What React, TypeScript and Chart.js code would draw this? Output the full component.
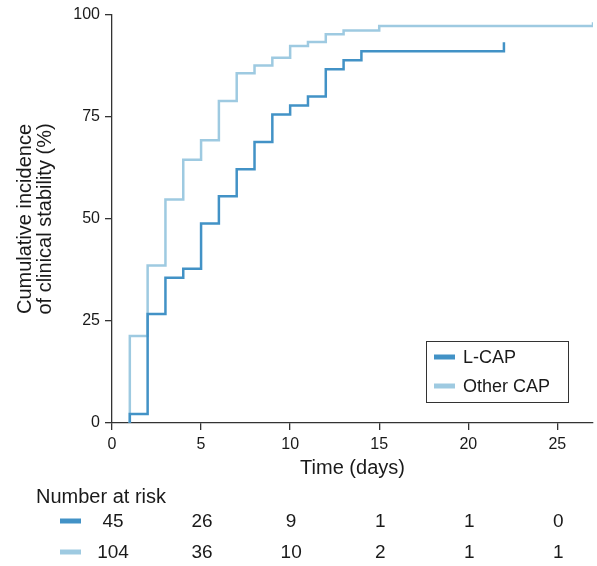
import React, { useEffect, useRef } from 'react';
import { Chart, registerables } from 'chart.js';

Chart.register(...registerables);

// ---- data ----
const seriesNames = ['L-CAP', 'Other CAP'];
const seriesColors = ['#4292c6', '#9ecae1'];

const lcapTimes = [1, 1, 2, 3, 4, 5, 6, 7, 8, 9, 10, 11, 12, 13, 14, 22, 22];
const lcapValues = [0, 2.2, 26.7, 35.6, 37.8, 48.9, 55.6, 62.2, 68.9, 75.6, 77.8, 80.0, 86.7, 88.9, 91.1, 91.1, 93.3];

const otherTimes = [1, 1, 2, 3, 4, 5, 6, 7, 8, 9, 10, 11, 12, 13, 15, 27, 27];
const otherValues = [0, 21.3, 38.6, 54.8, 64.5, 69.3, 78.9, 85.7, 87.6, 89.5, 92.4, 93.4, 95.3, 96.2, 97.3, 97.3, 98.2];

const riskTimes = [0, 5, 10, 15, 20, 25];
const riskLcap = [45, 26, 9, 1, 1, 0];
const riskOther = [104, 36, 10, 2, 1, 1];
const riskTitle = 'Number at risk';

const xTitle = 'Time (days)';
const yTitle = ['Cumulative incidence', 'of clinical stability (%)'];

const FONT = "'Liberation Sans', Arial, Helvetica, sans-serif";
const TEXT = '#1a1a1a';
const AXIS = '#333333';

const toPoints = (xs: number[], ys: number[]) => xs.map((x, i) => ({ x, y: ys[i] }));

const overlayPlugin = {
  id: 'overlay',
  afterDraw(chart: any) {
    const ctx = chart.ctx as CanvasRenderingContext2D;
    const area = chart.chartArea;
    const xs = chart.scales.x;
    ctx.save();

    // legend box
    const bx = area.right - 167;
    const by = area.bottom - 82;
    const bw = 142;
    const bh = 61;
    ctx.fillStyle = '#ffffff';
    ctx.fillRect(bx, by, bw, bh);
    ctx.strokeStyle = AXIS;
    ctx.lineWidth = 1;
    ctx.strokeRect(Math.round(bx) + 0.5, Math.round(by) + 0.5, bw, bh);
    ctx.font = `18px ${FONT}`;
    ctx.textBaseline = 'middle';
    ctx.textAlign = 'left';
    seriesNames.forEach((name, i) => {
      const y = by + 16 + i * 29;
      ctx.strokeStyle = seriesColors[i];
      ctx.lineWidth = 5;
      ctx.lineCap = 'butt';
      ctx.beginPath();
      ctx.moveTo(bx + 8, y);
      ctx.lineTo(bx + 29, y);
      ctx.stroke();
      ctx.fillStyle = TEXT;
      ctx.fillText(name, bx + 37, y + 1);
    });

    // number at risk table
    ctx.font = `20px ${FONT}`;
    ctx.fillStyle = TEXT;
    ctx.textAlign = 'left';
    ctx.fillText(riskTitle, 36, area.bottom + 74);
    const rows = [riskLcap, riskOther];
    ctx.font = `19px ${FONT}`;
    rows.forEach((row, r) => {
      const y = area.bottom + 99 + r * 31;
      ctx.strokeStyle = seriesColors[r];
      ctx.lineWidth = 5;
      ctx.beginPath();
      ctx.moveTo(60, y - 1);
      ctx.lineTo(81, y - 1);
      ctx.stroke();
      ctx.fillStyle = TEXT;
      ctx.textAlign = 'center';
      row.forEach((v, i) => {
        ctx.fillText(String(v), xs.getPixelForValue(riskTimes[i]) + 1, y);
      });
    });
    ctx.restore();
  },
};

export default function App() {
  const ref = useRef<HTMLCanvasElement | null>(null);

  useEffect(() => {
    document.body.style.margin = '0';
    const canvas = ref.current;
    if (!canvas) return;
    const chart = new Chart(canvas, {
      type: 'line',
      data: {
        datasets: [
          {
            label: seriesNames[0],
            data: toPoints(lcapTimes, lcapValues),
            borderColor: seriesColors[0],
            backgroundColor: seriesColors[0],
            borderWidth: 2.5,
            pointRadius: 0,
            stepped: 'before',
            fill: false,
          },
          {
            label: seriesNames[1],
            data: toPoints(otherTimes, otherValues),
            borderColor: seriesColors[1],
            backgroundColor: seriesColors[1],
            borderWidth: 2.5,
            pointRadius: 0,
            stepped: 'before',
            fill: false,
          },
        ],
      },
      options: {
        responsive: false,
        animation: false,
        devicePixelRatio: 1,
        layout: { padding: { top: 15, right: 4, left: 0, bottom: 88 } },
        plugins: {
          legend: { display: false },
          tooltip: { enabled: false },
        },
        scales: {
          x: {
            type: 'linear',
            min: 0,
            max: 27,
            afterFit: (s: any) => { s.height = 55; },
            ticks: {
              stepSize: 5,
              includeBounds: false,
              color: TEXT,
              padding: 5,
              font: { family: FONT, size: 16 },
              maxRotation: 0,
            },
            grid: {
              display: true,
              drawOnChartArea: false,
              drawTicks: true,
              tickLength: 7,
              color: AXIS,
              lineWidth: 1.3,
            },
            border: { display: true, color: AXIS, width: 1.3 },
            title: {
              display: true,
              text: xTitle,
              color: TEXT,
              font: { family: FONT, size: 20, lineHeight: 1 },
              padding: { top: 0, bottom: 0 },
            },
          },
          y: {
            type: 'linear',
            min: 0,
            max: 100,
            afterFit: (s: any) => { s.width = 112; },
            ticks: {
              stepSize: 25,
              color: TEXT,
              padding: 5,
              font: { family: FONT, size: 16 },
            },
            grid: {
              display: true,
              drawOnChartArea: false,
              drawTicks: true,
              tickLength: 7,
              color: AXIS,
              lineWidth: 1.3,
            },
            border: { display: true, color: AXIS, width: 1.3 },
            title: {
              display: true,
              text: yTitle,
              color: TEXT,
              font: { family: FONT, size: 20, lineHeight: 1 },
              padding: { top: 15, bottom: 0 },
            },
          },
        },
      },
      plugins: [overlayPlugin],
    });
    return () => chart.destroy();
  }, []);

  return (
    <div style={{ width: 597, height: 566, background: '#ffffff' }}>
      <canvas ref={ref} width={597} height={566} style={{ display: 'block' }} />
    </div>
  );
}
